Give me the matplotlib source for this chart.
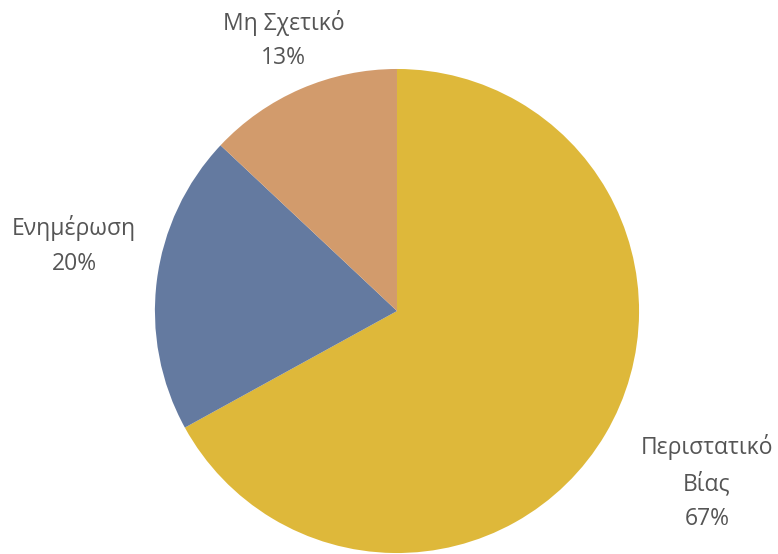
import numpy as np
import matplotlib
matplotlib.use('Agg')
from matplotlib import pyplot as plt

plt.rcParams['font.family'] = ['Open Sans', 'DejaVu Sans']

labels = ['Περιστατικό\nΒίας', 'Ενημέρωση', 'Μη Σχετικό']
values = [67, 20, 13]
colors = ['#DEB83A', '#647AA0', '#D29B6C']
label_dist = [1.47, 1.36, 1.22]
label_shift = [0.04, 0.1, 0.0]

fig = plt.figure(figsize=(7.78, 5.54), dpi=100)
ax = fig.add_axes([0, 0, 1, 1])
wedges, _ = ax.pie(values, colors=colors, startangle=90, counterclock=False,
                   radius=1, center=(0, 0))
for w, lab, v, d, s in zip(wedges, labels, values, label_dist, label_shift):
    ang = np.deg2rad((w.theta1 + w.theta2) / 2)
    ax.text(d * np.cos(ang) + 0.015, d * np.sin(ang) + s, '{}\n{}%'.format(lab, v),
            ha='center', va='center', fontsize=16.5, color='#555555',
            linespacing=1.6)

ax.set_xlim(-1.640, 1.574)
ax.set_ylim(-1.004, 1.285)
ax.set_aspect('auto')
ax.axis('off')
plt.savefig('out.png', dpi=100)
